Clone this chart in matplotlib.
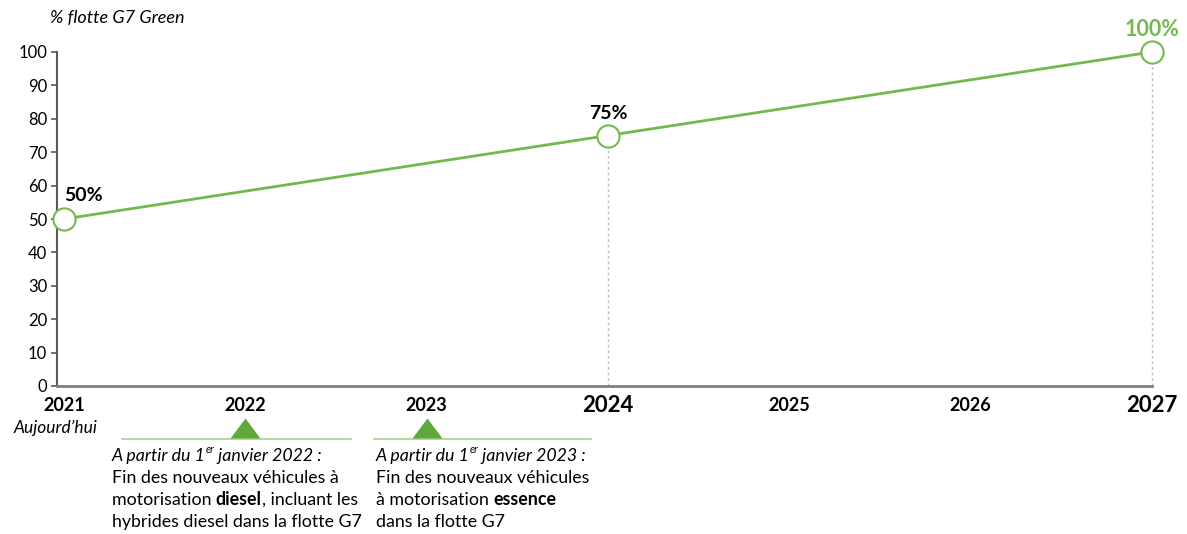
import matplotlib
matplotlib.use("Agg")
import matplotlib.pyplot as plt
from matplotlib.transforms import blended_transform_factory

plt.rcParams['font.family'] = ['Lato', 'DejaVu Sans']

# data
years = [2021, 2022, 2023, 2024, 2025, 2026, 2027]
year_labels = ['2021', '2022', '2023', '2024', '2025', '2026', '2027']
big_years = [2024, 2027]
point_years = [2021, 2024, 2027]
point_values = [50, 75, 100]
point_labels = ['50%', '75%', '100%']
event_years = [2022, 2023]
event_heads = [("A partir du 1", "er", " janvier 2022 :"),
               ("A partir du 1", "er", " janvier 2023 :")]
event_lines = [
    [("Fin des nouveaux véhicules à", ""),
     ("motorisation ", "diesel", ", incluant les"),
     ("hybrides diesel dans la flotte G7", "")],
    [("Fin des nouveaux véhicules", ""),
     ("à motorisation ", "essence", ""),
     ("dans la flotte G7", "")],
]
event_spans = [(2021.32, 2022.585), (2022.71, 2023.906)]
event_text_x = [2021.264, 2022.72]

green = '#74B94F'
dark_green = '#5FA83A'
fs = 12.8

fig = plt.figure(figsize=(11.87, 5.34), dpi=100)
ax = fig.add_axes([57 / 1187, 1 - 386 / 534, (1152 - 57) / 1187, (386 - 52) / 534])

ax.plot(point_years, point_values, color=green, lw=2, zorder=3, clip_on=False)
ax.plot(point_years, point_values, 'o', ms=16, mfc='white', mec=green, mew=1.5, zorder=4,
        clip_on=False)
for yr, v in zip(point_years[1:], point_values[1:]):
    ax.vlines(yr, 0, v - 3, colors='#BFBFBF', linestyles=(0, (2, 2)), lw=1, zorder=1,
              clip_on=False)

ax.annotate(point_labels[0], (point_years[0], point_values[0]), xytext=(0, 11),
            textcoords='offset points', fontsize=14, fontweight='bold', ha='left', va='bottom')
ax.annotate(point_labels[1], (point_years[1], point_values[1]), xytext=(0, 10),
            textcoords='offset points', fontsize=14, fontweight='bold', ha='center', va='bottom')
ax.annotate(point_labels[2], (point_years[2], point_values[2]), xytext=(0, 9),
            textcoords='offset points', fontsize=15.5, fontweight='bold', ha='center', va='bottom',
            color=green)

ax.set_xlim(2021 - 7 / 181.5, 2027)
ax.set_ylim(0, 100)
ax.set_yticks(range(0, 101, 10))
ax.tick_params(axis='y', labelsize=12, length=4, width=1.2, color='#595959', pad=3)
ax.set_xticks(years)
ax.set_xticklabels(year_labels)
ax.tick_params(axis='x', length=0, pad=9)
for lab, yr in zip(ax.get_xticklabels(), years):
    lab.set_fontweight('bold')
    lab.set_fontsize(16 if yr in big_years else 13)
    lab.set_va('center')
    lab.set_y(-0.02)
for s in ['top', 'right']:
    ax.spines[s].set_visible(False)
ax.spines['left'].set_color('#595959')
ax.spines['left'].set_linewidth(1.5)
ax.spines['bottom'].set_color('#7F7F7F')
ax.spines['bottom'].set_linewidth(2)

fig.text(50 / 1187, 1 - 18 / 534, '% flotte G7 Green', fontsize=13, style='italic',
         ha='left', va='center')
fig.text(97 / 1187, 1 - 428 / 534, "Aujourd’hui", fontsize=12.5, style='italic',
         ha='right', va='center')

tr = blended_transform_factory(ax.transData, fig.transFigure)
tri = [(-1.5, -1), (1.5, -1), (0, 1), (-1.5, -1)]

for k, yr in enumerate(event_years):
    x0, x1 = event_spans[k]
    ax.plot([x0, x1], [1 - 439 / 534] * 2, color='#A9D18E', lw=1.2, transform=tr, clip_on=False)
    ax.plot([yr], [1 - 428 / 534], marker=tri, ms=21.6, color=dark_green, transform=tr,
            clip_on=False, mew=0)
    tx = event_text_x[k]
    # header with superscript
    a, sup, b = event_heads[k]
    t = ax.text(tx, 1 - 456 / 534, a, transform=tr, fontsize=fs, style='italic',
                ha='left', va='center', clip_on=False)
    t2 = ax.annotate(sup, xy=(1, 0.55), xycoords=t, fontsize=fs * 0.6, style='italic',
                     ha='left', va='bottom')
    ax.annotate(b, xy=(1, 0), xycoords=(t2, t), fontsize=fs, style='italic',
                ha='left', va='bottom', annotation_clip=False)
    # body lines, with bold words
    for i, parts in enumerate(event_lines[k]):
        y = 1 - (478 + 22 * i) / 534
        prev = ax.text(tx, y, parts[0], transform=tr, fontsize=fs, ha='left', va='center',
                       clip_on=False)
        for j, p in enumerate(parts[1:]):
            if not p:
                continue
            prev = ax.annotate(p, xy=(1, 0), xycoords=prev, fontsize=fs, ha='left', va='bottom',
                               fontweight='bold' if j == 0 else 'normal')

fig.savefig('out.png', dpi=100)
